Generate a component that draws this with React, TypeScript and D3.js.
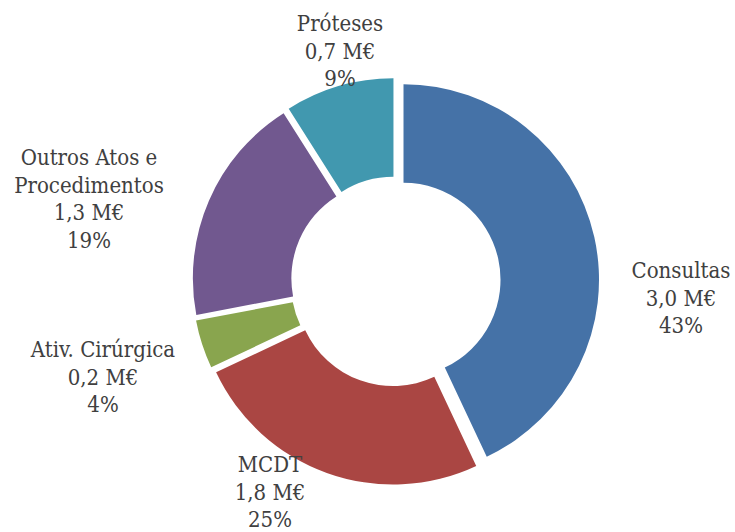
import React from "react";
import * as d3 from "d3";

const categories = ["Consultas", "MCDT", "Ativ. Cirúrgica", "Outros Atos e Procedimentos", "Próteses"];
const labelLines = [["Consultas"], ["MCDT"], ["Ativ. Cirúrgica"], ["Outros Atos e", "Procedimentos"], ["Próteses"]];
const valuesMEur = ["3,0", "1,8", "0,2", "1,3", "0,7"];
const percents = [43, 25, 4, 19, 9];
const colors = ["#4572A7", "#AA4643", "#89A54E", "#71588F", "#4198AF"];

// label layout (center x, first baseline y)
const labelLayout: [number, number][] = [
  [681, 278],
  [270, 472],
  [103, 357],
  [89, 165],
  [340, 31],
];

const W = 735;
const H = 532;
const CX = 395.7;
const CY = 281.5;
const R_OUT = 195.5;
const R_IN = 97;
const EXPLODE = 8;
const LINE_H = 27.5;

export default function App() {
  const pie = d3.pie<number>().sort(null).value((d) => d);
  const arcs = pie(percents);
  const arcGen = d3.arc<d3.PieArcDatum<number>>().innerRadius(R_IN).outerRadius(R_OUT);

  return (
    <svg
      width={W}
      height={H}
      style={{ position: "absolute", left: 0, top: 0, background: "#fff" }}
      fontFamily="'DejaVu Serif Condensed', 'DejaVu Serif', serif"
    >
      <g transform={`translate(${CX},${CY})`}>
        {arcs.map((a, i) => {
          const mid = (a.startAngle + a.endAngle) / 2;
          const dx = Math.sin(mid) * EXPLODE;
          const dy = -Math.cos(mid) * EXPLODE;
          return (
            <path
              key={categories[i]}
              d={arcGen(a) || ""}
              fill={colors[i]}
              transform={`translate(${dx},${dy})`}
            />
          );
        })}
      </g>
      {categories.map((c, i) => {
        const [x, y] = labelLayout[i];
        const lines = [...labelLines[i], `${valuesMEur[i]} M€`, `${percents[i]}%`];
        return (
          <text key={c} x={x} y={y} textAnchor="middle" fontSize={22} fill="#404040">
            {lines.map((l, j) => (
              <tspan key={j} x={x} dy={j === 0 ? 0 : LINE_H}>
                {l}
              </tspan>
            ))}
          </text>
        );
      })}
    </svg>
  );
}
